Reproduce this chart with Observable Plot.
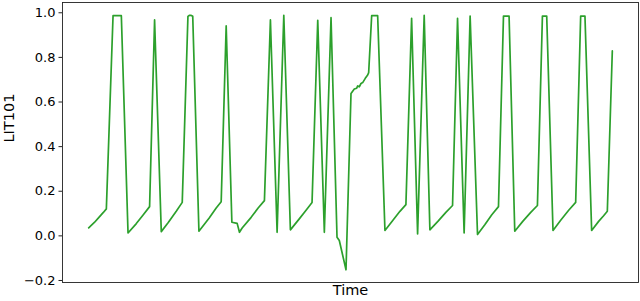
<!DOCTYPE html>
<html>
<head>
<meta charset="utf-8">
<script src="https://cdn.jsdelivr.net/npm/d3@7"></script>
<script src="https://cdn.jsdelivr.net/npm/@observablehq/plot@0.6"></script>
<style>
  html, body { margin: 0; padding: 0; background: #fff; }
  #chart svg { display: block; }
</style>
</head>
<body>
<div id="chart"></div>
<script>
const time = [0, 5.7, 10.7, 14.7, 17.7, 24.4, 32.7, 39.4, 47.7, 54.7, 61, 66, 72.7, 79.7, 87.7, 93.7,
  99.4, 100.7, 102.7, 104.2, 110.4, 120.7, 127.7, 132.7, 137.7, 143.4, 148.7, 151, 153.7, 162.7, 169.7, 176,
  182, 188.7, 195.4, 202, 210.7, 217.7, 223.7, 229.4, 236, 242.7, 248.7, 251, 257.7, 262.7, 266, 268.4, 269.4,
  271, 272.7, 274.4, 277, 279.4, 280.4, 283.4, 289.4, 296.7, 304.7, 311.7, 317.7, 323.4, 329.4, 336, 341.7,
  349.7, 357.7, 364.4, 369.4, 376, 382, 389.4, 396.7, 403.7, 410.4, 415.4, 421, 426.7, 434.7, 442.7, 449.4,
  454.4, 458.7, 465, 472.7, 480.7, 487.7, 492.7, 497, 503.7, 510.7, 515.7, 519.4, 524.4];
const lit101 = [0.036, 0.060, 0.085, 0.105, 0.121, 0.987, 0.987, 0.013, 0.055, 0.095, 0.131, 0.968, 0.019, 0.060, 0.110, 0.150,
  0.984, 0.988, 0.988, 0.984, 0.021, 0.080, 0.125, 0.153, 0.941, 0.061, 0.056, 0.016, 0.035, 0.083, 0.125, 0.158,
  0.968, 0.016, 0.989, 0.027, 0.075, 0.115, 0.150, 0.966, 0.016, 0.978, -0.006, -0.021, -0.152, 0.638, 0.658, 0.662, 0.672,
  0.668, 0.683, 0.687, 0.706, 0.721, 0.732, 0.987, 0.987, 0.024, 0.070, 0.110, 0.140, 0.975, 0.009, 0.989, 0.027,
  0.065, 0.105, 0.136, 0.975, 0.013, 0.985, 0.006, 0.050, 0.095, 0.131, 0.985, 0.985, 0.021, 0.065, 0.105, 0.136,
  0.985, 0.985, 0.024, 0.070, 0.115, 0.150, 0.985, 0.985, 0.024, 0.065, 0.090, 0.110, 0.829];
const yTicks = [-0.2, 0.0, 0.2, 0.4, 0.6, 0.8, 1.0];
const xLabel = "Time";
const yLabel = "LIT101";

const data = time.map((t, i) => ({time: t, value: lit101[i]}));
const pad = (ext) => { const r = ext[1] - ext[0]; return [ext[0] - 0.05 * r, ext[1] + 0.05 * r]; };
const font = "DejaVu Sans, sans-serif";

const chart = Plot.plot({
  width: 640,
  height: 301,
  marginLeft: 62,
  marginRight: 2,
  marginTop: 2,
  marginBottom: 19,
  style: {fontFamily: font, background: "#fff", overflow: "visible"},
  x: {domain: pad(d3.extent(time)), axis: null},
  y: {domain: pad(d3.extent(lit101)), axis: null},
  marks: [
    Plot.line(data, {x: "time", y: "value", stroke: "#2ca02c", strokeWidth: 1.7}),
    Plot.frame({stroke: "#222", strokeWidth: 0.9}),
    Plot.axisY(yTicks, {
      tickSize: 3.5, tickPadding: 3.5, fontSize: 13, stroke: "#222",
      tickFormat: d => d.toFixed(1).replace("-", "\u2212"),
      label: null, fill: "#000"
    }),
    Plot.text([yLabel], {frameAnchor: "left", rotate: -90, dx: -53.5, fontSize: 14.5, fill: "#000", text: d => d}),
    Plot.text([xLabel], {frameAnchor: "bottom", dy: 12, fontSize: 14.5, fill: "#000", text: d => d})
  ]
});
document.getElementById("chart").appendChild(chart);
</script>
</body>
</html>
